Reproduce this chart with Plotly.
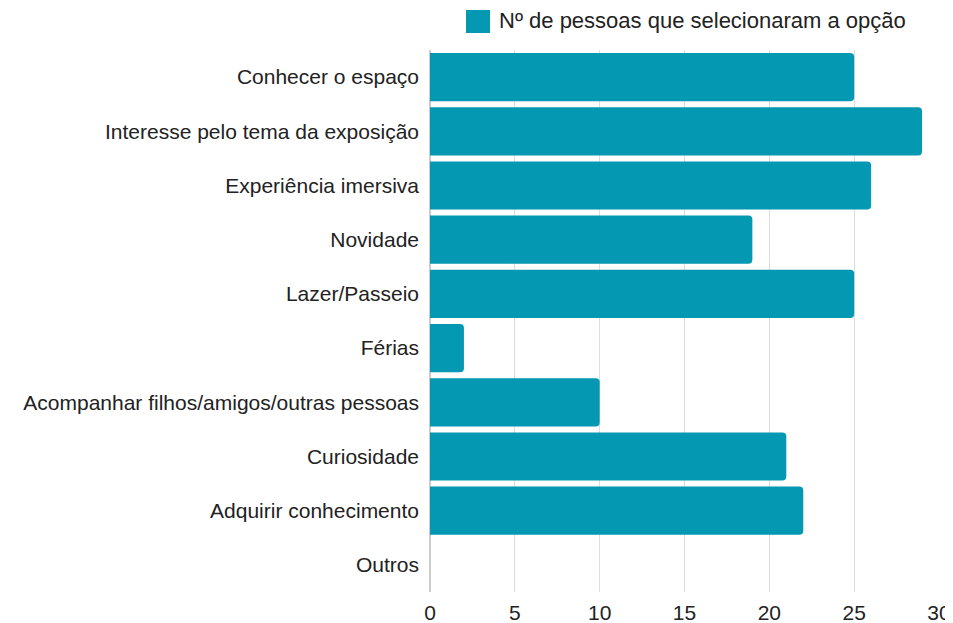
import plotly.graph_objects as go

categories = [
    "Conhecer o espaço",
    "Interesse pelo tema da exposição",
    "Experiência imersiva",
    "Novidade",
    "Lazer/Passeio",
    "Férias",
    "Acompanhar filhos/amigos/outras pessoas",
    "Curiosidade",
    "Adquirir conhecimento",
    "Outros",
]
values = [25, 29, 26, 19, 25, 2, 10, 21, 22, 0]
series_name = "Nº de pessoas que selecionaram a opção"
x_ticks = [0, 5, 10, 15, 20, 25, 30]
bar_color = "#0598b2"

fig = go.Figure()
fig.add_trace(go.Bar(
    y=categories,
    x=values,
    orientation="h",
    name=series_name,
    marker=dict(color=bar_color, line=dict(width=0)),
    showlegend=True,
))

# page body adds an 8px offset, so the figure is sized 945x615
fig.update_layout(
    width=945,
    height=615,
    margin=dict(l=422, r=14, t=42, b=31, autoexpand=False),
    paper_bgcolor="white",
    plot_bgcolor="white",
    font=dict(family="Liberation Sans, Arial, sans-serif", size=21, color="#222222"),
    bargap=0.11,
    barcornerradius=4,
    legend=dict(
        orientation="h",
        x=0.057, xanchor="left",
        y=1.018, yanchor="bottom",
        yref="paper",
        bgcolor="rgba(0,0,0,0)",
        font=dict(size=22, color="#222222"),
        itemwidth=30,
    ),
    xaxis=dict(
        range=[0, 30],
        tickvals=x_ticks,
        automargin=False,
        showgrid=True,
        gridcolor="#dddddd",
        gridwidth=1,
        zeroline=True,
        zerolinecolor="#cccccc",
        showline=False,
        ticks="",
        ticklabelstandoff=6,
        tickfont=dict(size=21, color="#222222"),
    ),
    yaxis=dict(
        autorange="reversed",
        automargin=False,
        showgrid=False,
        ticks="",
        ticklabelstandoff=10,
        tickfont=dict(size=21, color="#222222"),
    ),
)

# enlarge the legend swatch to the reference's square size
fig.add_shape(
    type="rect", xref="paper", yref="paper",
    x0=0.0707, x1=0.1179, y0=1.0314, y1=1.0738,
    fillcolor=bar_color, line=dict(width=0), layer="below",
)

fig.write_html("out.html")
